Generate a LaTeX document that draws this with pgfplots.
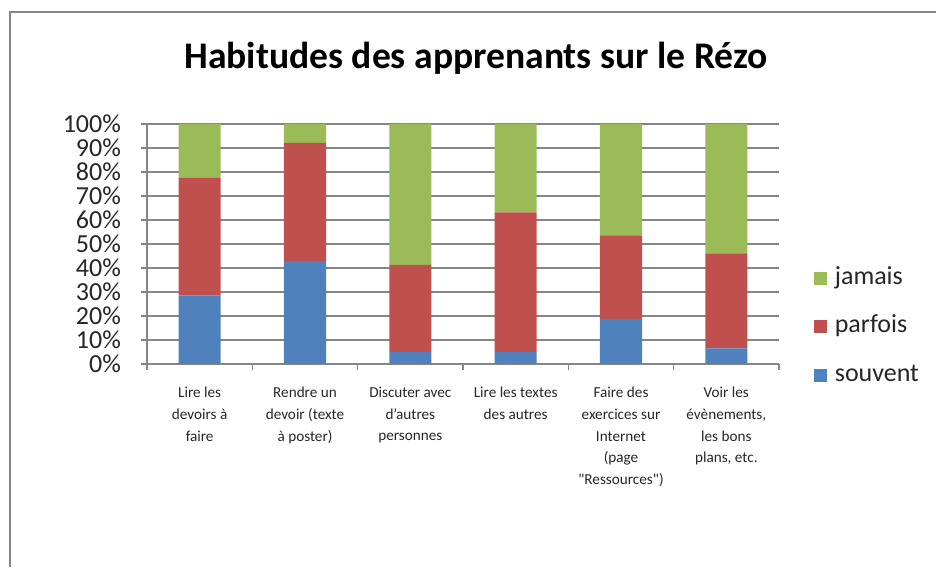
\documentclass[border=0pt]{standalone}
\usepackage{pgfplots}
\pgfplotsset{compat=1.18}
\usepackage{fontspec}
\setmainfont{Carlito}
\definecolor{xlblue}{HTML}{4F81BD}
\definecolor{xlred}{HTML}{C0504D}
\definecolor{xlgreen}{HTML}{9BBB59}
\definecolor{xlgrid}{HTML}{868686}
\begin{document}
\begin{tikzpicture}
  % page frame (Excel chart area), only top and left edges visible
  \useasboundingbox (0pt,0pt) rectangle (468pt,283.5pt);
  \draw[xlgrid, line width=1pt] (4.75pt,0pt) -- (4.75pt,277.5pt) -- (468pt,277.5pt);
  \node[font=\bfseries\fontsize{18.8}{22}\selectfont] at (238pt,254.5pt) {Habitudes des apprenants sur le Rézo};
  \begin{axis}[
      at={(73.5pt,101.5pt)}, anchor=south west,
      scale only axis,
      width=316pt, height=120pt,
      ybar stacked,
      bar width=0.4,
      xmin=-0.5, xmax=5.5,
      ymin=0, ymax=100,
      axis lines=left,
      axis line style={-, xlgrid, line width=0.6pt},
      ytick={0,10,...,100},
      yticklabels={0\%,10\%,20\%,30\%,40\%,50\%,60\%,70\%,80\%,90\%,100\%},
      yticklabel style={font=\fontsize{13}{15}\selectfont, color=black!85, xshift=-6.5pt},
      ymajorgrids,
      grid style={xlgrid, line width=0.6pt},
      tick style={xlgrid, line width=0.6pt},
      tick align=outside,
      major tick length=3pt,
      xtick={0,...,5},
      xticklabels={
        Lire les\\devoirs à\\faire,
        Rendre un\\devoir (texte\\à poster),
        Discuter avec\\d'autres\\personnes,
        Lire les textes\\des autres,
        Faire des\\exercices sur\\Internet\\(page\\\textquotedbl Ressources\textquotedbl),
        {Voir les\\évènements,\\les bons\\plans, etc.}},
      xticklabel style={font=\fontsize{7.6}{10.85}\selectfont, align=center, color=black!85, yshift=-5pt},
      x tick style={draw=none},
      minor xtick={-0.5,0.5,...,5.5},
      minor x tick style={draw=xlgrid, line width=0.6pt},
      minor tick length=3pt,
      reverse legend,
      legend style={at={(1.045,0.156)}, anchor=west, draw=none, fill=none,
        font=\fontsize{13}{15}\selectfont, row sep=12.25pt,
        nodes={inner sep=0pt, text height=9pt, text depth=3pt, text=black!85}},
      legend cell align=left,
      legend image code/.code={\path[#1] (0pt,-3.25pt) rectangle (6.5pt,3.25pt);\path (6.5pt,0pt) -- (10.5pt,0pt);},
    ]
    \addplot[fill=xlblue, draw=none] coordinates {(0,28.6) (1,42.9) (2,5.0) (3,5.0) (4,18.75) (5,6.5)};
    \addplot[fill=xlred, draw=none] coordinates {(0,49.0) (1,49.2) (2,36.25) (3,58.2) (4,34.85) (5,39.6)};
    \addplot[fill=xlgreen, draw=none] coordinates {(0,22.4) (1,7.9) (2,58.75) (3,36.8) (4,46.4) (5,53.9)};
    \legend{souvent, parfois, jamais}
  \end{axis}
\end{tikzpicture}
\end{document}
